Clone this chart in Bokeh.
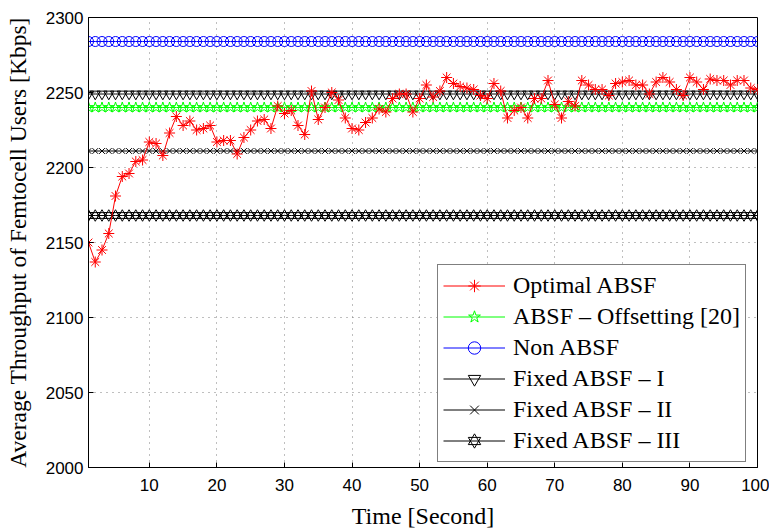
from bokeh.plotting import figure
from bokeh.models import Range1d, FixedTicker, Legend, LegendItem
from bokeh.embed import file_html
from bokeh.resources import INLINE

# ---------------- data ----------------
time_s = list(range(1, 101))
optimal_absf = [
    2150, 2137, 2145, 2156, 2181, 2194, 2196, 2204, 2205, 2217,
    2216, 2208, 2223, 2234, 2228, 2231, 2225, 2226, 2228, 2217,
    2218, 2218, 2209, 2220, 2225, 2231, 2232, 2226, 2241, 2236,
    2238, 2228, 2222, 2251, 2232, 2240, 2250, 2245, 2233, 2226,
    2225, 2230, 2233, 2239, 2237, 2246, 2249, 2249, 2237, 2246,
    2255, 2247, 2251, 2260, 2256, 2254, 2253, 2252, 2248, 2246,
    2256, 2251, 2233, 2238, 2240, 2233, 2246, 2246, 2258, 2242,
    2233, 2244, 2241, 2258, 2255, 2252, 2252, 2248, 2256, 2257,
    2258, 2255, 2255, 2249, 2257, 2260, 2257, 2252, 2248, 2260,
    2257, 2252, 2259, 2258, 2258, 2255, 2258, 2258, 2253, 2252,
]
offsetting_level = 2240
non_absf_level = 2284
fixed_1_level = 2249
fixed_2_level = 2211
fixed_3_level = 2168

offsetting = [offsetting_level] * len(time_s)
non_absf = [non_absf_level] * len(time_s)
fixed_1 = [fixed_1_level] * len(time_s)
fixed_2 = [fixed_2_level] * len(time_s)
fixed_3 = [fixed_3_level] * len(time_s)

x_ticks = [10, 20, 30, 40, 50, 60, 70, 80, 90, 100]
y_ticks = [2000, 2050, 2100, 2150, 2200, 2250, 2300]

labels = ["Optimal ABSF", "ABSF \u2013 Offsetting [20]", "Non ABSF",
          "Fixed ABSF \u2013 I", "Fixed ABSF \u2013 II", "Fixed ABSF \u2013 III"]

SERIF = "Liberation Serif"
SANS = "Liberation Sans"

# ---------------- figure ----------------
p = figure(width=769, height=531, output_backend="svg", toolbar_location=None,
           x_range=Range1d(1, 100), y_range=Range1d(2000, 2300),
           min_border_left=88, min_border_right=12, min_border_top=17,
           min_border_bottom=64, background_fill_color="white",
           border_fill_color="white")
p.outline_line_color = "black"
p.outline_line_width = 1

for ax in (p.xaxis[0], p.yaxis[0]):
    ax.major_tick_in = 5
    ax.major_tick_out = 0
    ax.minor_tick_line_color = None
    ax.axis_line_color = "black"
    ax.major_tick_line_color = "black"
    ax.major_label_text_font = SANS
    ax.major_label_text_font_size = "17px"
    ax.major_label_text_color = "black"
    ax.axis_label_text_font = SERIF
    ax.axis_label_text_font_style = "normal"
    ax.axis_label_text_color = "black"

p.xaxis[0].ticker = FixedTicker(ticks=x_ticks)
p.yaxis[0].ticker = FixedTicker(ticks=y_ticks)
p.xaxis[0].axis_label = "Time [Second]"
p.yaxis[0].axis_label = "Average Throughput of Femtocell Users [Kbps]"
p.xaxis[0].axis_label_text_font_size = "24px"
p.yaxis[0].axis_label_text_font_size = "23.5px"
p.xaxis[0].major_label_standoff = 11
p.xaxis[0].axis_label_standoff = 9
p.yaxis[0].major_label_standoff = 5
p.yaxis[0].axis_label_standoff = 12

p.grid.grid_line_color = "#7f7f7f"
p.grid.grid_line_dash = "1 5"
p.grid.grid_line_width = 1
p.xgrid.ticker = FixedTicker(ticks=x_ticks)
p.ygrid.ticker = FixedTicker(ticks=y_ticks)

# ---------------- series ----------------
items = {}

# Non ABSF (blue circles)
l = p.line(time_s, non_absf, line_color="blue", line_width=1)
m = p.scatter(time_s, non_absf, marker="circle", size=10, line_color="blue",
              fill_color=None, line_width=1)
items[labels[2]] = [l, m]

# Fixed I (inverted triangles)
l = p.line(time_s, fixed_1, line_color="black", line_width=1)
m = p.scatter(time_s, fixed_1, marker="inverted_triangle", size=10,
              line_color="black", fill_color=None, line_width=1)
items[labels[3]] = [l, m]

# Offsetting (green pentagram)
l = p.line(time_s, offsetting, line_color="#00ff00", line_width=1)
m = p.scatter(time_s, offsetting, marker="star", size=11, line_color="#00ff00",
              fill_color=None, line_width=1)
items[labels[1]] = [l, m]

# Fixed II (x)
l = p.line(time_s, fixed_2, line_color="black", line_width=1)
m = p.scatter(time_s, fixed_2, marker="x", size=8, line_color="black",
              line_width=1)
items[labels[4]] = [l, m]

# Fixed III (hexagram = up + down triangles)
l = p.line(time_s, fixed_3, line_color="black", line_width=1)
m1 = p.scatter(time_s, fixed_3, marker="triangle", size=10, line_color="black",
               fill_color=None, line_width=1)
m2 = p.scatter(time_s, fixed_3, marker="inverted_triangle", size=10,
               line_color="black", fill_color=None, line_width=1)
items[labels[5]] = [l, m1, m2]

# Optimal ABSF (red asterisks)
l = p.line(time_s, optimal_absf, line_color="red", line_width=1)
m = p.scatter(time_s, optimal_absf, marker="asterisk", size=11, line_color="red",
              line_width=1)
items[labels[0]] = [l, m]

legend = Legend(items=[LegendItem(label=lab, renderers=items[lab]) for lab in labels],
                location=(349, 5),
                label_text_font=SERIF, label_text_font_size="24px",
                label_text_color="black", glyph_width=62, glyph_height=31,
                label_height=31, label_standoff=8, spacing=0, padding=5,
                margin=0, border_line_color="black", border_line_width=1,
                background_fill_color="white", background_fill_alpha=1.0)
p.add_layout(legend, "center")

open("out.html", "w").write(file_html(p, INLINE))
